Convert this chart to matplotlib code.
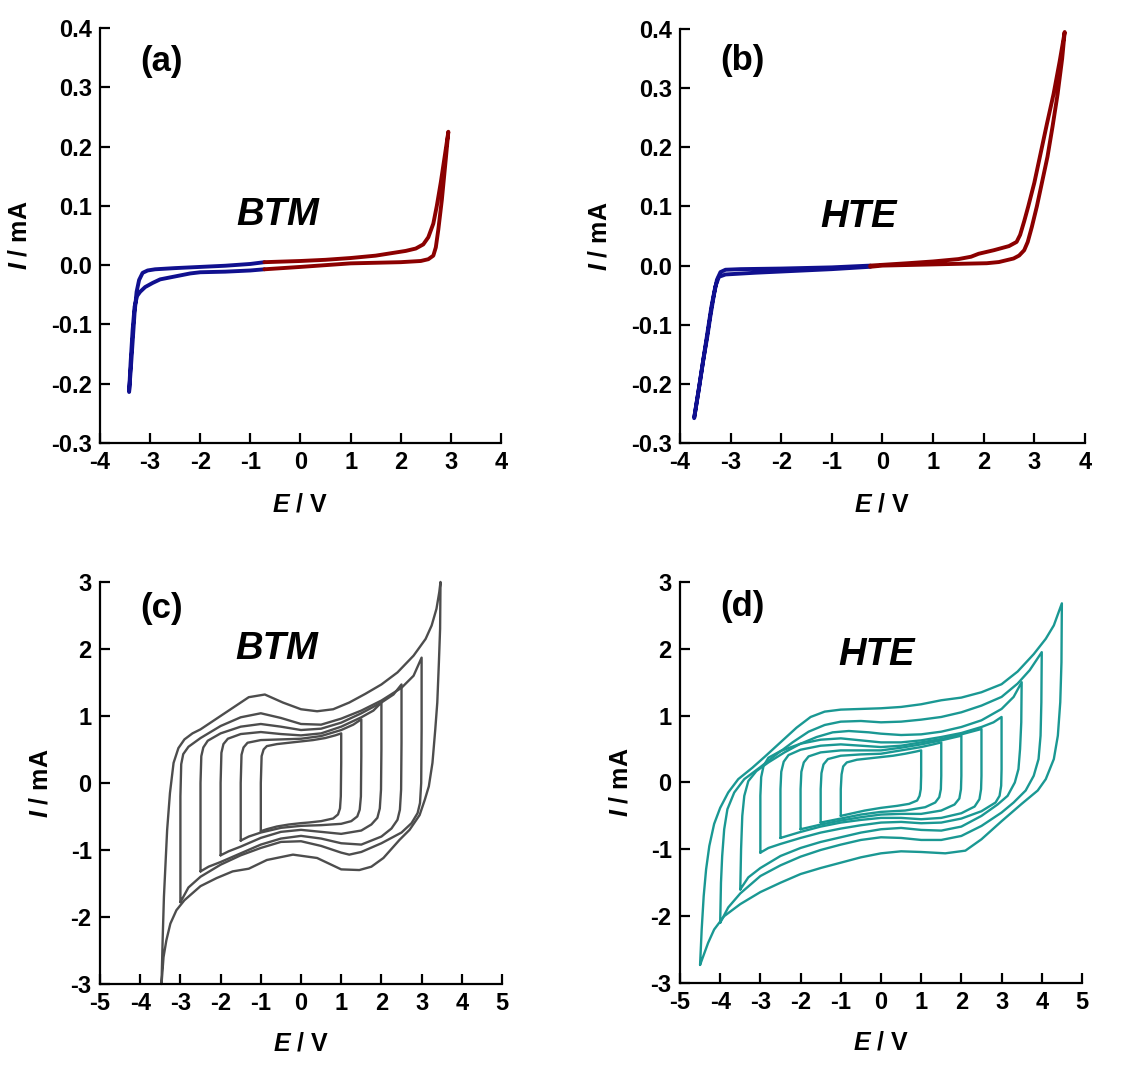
import numpy as np
import matplotlib
matplotlib.use("Agg")
import matplotlib.pyplot as plt
from matplotlib.ticker import FormatStrFormatter, MultipleLocator

plt.rcParams['font.family'] = ['Liberation Sans', 'DejaVu Sans']
plt.rcParams['font.weight'] = 'bold'
plt.rcParams['axes.unicode_minus'] = False
plt.rcParams['mathtext.fontset'] = 'custom'
plt.rcParams['mathtext.it'] = 'Liberation Sans:italic:bold'
plt.rcParams['mathtext.rm'] = 'Liberation Sans:bold'

BLUE = '#10108f'
RED = '#8b0000'
GRAY = '#4d4d4d'
TEAL = '#1a9893'

# (a) BTM, linear sweep, split at the colour change
a_blue = [(-0.72, 0.005), (-1.0, 0.002), (-1.5, -0.001), (-2.0, -0.003), (-2.5, -0.005),
          (-2.9, -0.007), (-3.05, -0.009), (-3.15, -0.013), (-3.22, -0.025), (-3.27, -0.045),
          (-3.31, -0.08), (-3.35, -0.13), (-3.39, -0.18), (-3.42, -0.214),
          (-3.39, -0.165), (-3.35, -0.11), (-3.31, -0.07), (-3.26, -0.052), (-3.2, -0.045),
          (-3.1, -0.037), (-2.95, -0.03), (-2.8, -0.024), (-2.5, -0.019), (-2.2, -0.014),
          (-2.0, -0.012), (-1.5, -0.011), (-1.0, -0.009), (-0.72, -0.007)]
a_red = [(-0.72, 0.005), (0.0, 0.007), (0.5, 0.009), (1.0, 0.012), (1.5, 0.016), (1.8, 0.02),
         (2.1, 0.024), (2.3, 0.028), (2.45, 0.035), (2.55, 0.047), (2.65, 0.07), (2.72, 0.1),
         (2.8, 0.14), (2.88, 0.185), (2.95, 0.225),
         (2.9, 0.18), (2.82, 0.11), (2.75, 0.06), (2.7, 0.03), (2.65, 0.016), (2.55, 0.01),
         (2.4, 0.007), (2.0, 0.005), (1.5, 0.004), (1.0, 0.003), (0.5, 0.0), (0.0, -0.003),
         (-0.72, -0.007)]

# (b) HTE, linear sweep
b_blue = [(-0.24, 0.0), (-1.0, -0.003), (-2.0, -0.005), (-2.8, -0.006), (-3.1, -0.007),
          (-3.2, -0.011), (-3.27, -0.024), (-3.33, -0.05), (-3.4, -0.086), (-3.46, -0.12),
          (-3.54, -0.16), (-3.62, -0.205), (-3.72, -0.258),
          (-3.64, -0.215), (-3.55, -0.165), (-3.46, -0.115), (-3.38, -0.07), (-3.3, -0.035),
          (-3.23, -0.019), (-3.1, -0.015), (-2.5, -0.012), (-2.0, -0.01), (-1.0, -0.006),
          (-0.24, -0.002)]
b_red = [(-0.24, 0.0), (0.5, 0.004), (1.0, 0.007), (1.5, 0.011), (1.75, 0.015), (1.9, 0.02),
         (2.2, 0.026), (2.5, 0.033), (2.65, 0.04), (2.72, 0.052), (2.8, 0.075), (2.88, 0.1),
         (3.0, 0.14), (3.11, 0.184), (3.25, 0.24), (3.38, 0.29), (3.5, 0.345), (3.6, 0.395),
         (3.55, 0.35), (3.46, 0.29), (3.36, 0.235), (3.26, 0.184), (3.15, 0.14), (3.05, 0.1),
         (2.95, 0.065), (2.87, 0.04), (2.8, 0.026), (2.7, 0.017), (2.59, 0.012), (2.3, 0.006),
         (2.06, 0.004), (1.5, 0.003), (1.0, 0.002), (0.0, 0.0), (-0.24, -0.002)]

# (c) BTM, cyclic voltammograms at increasing vertex potentials
c_loop_10 = [(-1.0, -0.72), (-1.0, 0.0), (-0.98, 0.4), (-0.93, 0.5), (-0.85, 0.55), (-0.6, 0.58),
             (-0.3, 0.6), (0.0, 0.62), (0.3, 0.64), (0.6, 0.67), (0.85, 0.71), (1.0, 0.74),
             (1.0, 0.3), (0.99, -0.2), (0.97, -0.38), (0.92, -0.47), (0.8, -0.53), (0.5, -0.57),
             (0.2, -0.59), (0.0, -0.6), (-0.3, -0.62), (-0.6, -0.65), (-0.85, -0.69), (-1.0, -0.72)]
c_loop_15 = [(-1.5, -0.86), (-1.5, 0.0), (-1.48, 0.42), (-1.43, 0.53), (-1.33, 0.6), (-1.0, 0.64),
             (-0.5, 0.65), (0.0, 0.66), (0.5, 0.7), (1.0, 0.79), (1.3, 0.87), (1.5, 0.95),
             (1.5, 0.4), (1.49, -0.2), (1.46, -0.4), (1.4, -0.5), (1.25, -0.57), (1.0, -0.61),
             (0.5, -0.63), (0.0, -0.64), (-0.5, -0.67), (-1.0, -0.74), (-1.3, -0.8), (-1.5, -0.86)]
c_loop_20 = [(-2.0, -1.08), (-2.0, 0.0), (-1.98, 0.45), (-1.93, 0.58), (-1.82, 0.66), (-1.5, 0.73),
             (-1.0, 0.76), (-0.5, 0.73), (0.0, 0.71), (0.5, 0.74), (1.0, 0.84), (1.5, 0.98),
             (1.8, 1.08), (2.0, 1.2), (2.0, 0.5), (1.99, -0.1), (1.96, -0.38), (1.9, -0.52),
             (1.75, -0.62), (1.5, -0.71), (1.0, -0.76), (0.5, -0.73), (0.0, -0.7), (-0.5, -0.73),
             (-1.0, -0.82), (-1.5, -0.95), (-1.8, -1.02), (-2.0, -1.08)]
c_loop_25 = [(-2.5, -1.32), (-2.5, 0.0), (-2.48, 0.4), (-2.43, 0.53), (-2.32, 0.63), (-2.0, 0.74),
             (-1.5, 0.84), (-1.0, 0.88), (-0.5, 0.84), (0.0, 0.79), (0.5, 0.81), (1.0, 0.9),
             (1.5, 1.04), (2.0, 1.2), (2.3, 1.32), (2.5, 1.47), (2.5, 0.6), (2.49, -0.1),
             (2.46, -0.4), (2.4, -0.55), (2.25, -0.68), (2.0, -0.8), (1.5, -0.92), (1.0, -0.9),
             (0.5, -0.83), (0.0, -0.79), (-0.5, -0.83), (-1.0, -0.92), (-1.5, -1.05), (-2.0, -1.18),
             (-2.3, -1.25), (-2.5, -1.32)]
c_loop_30 = [(-3.0, -1.78), (-3.0, -0.2), (-2.98, 0.28), (-2.93, 0.43), (-2.8, 0.54), (-2.5, 0.67),
             (-2.0, 0.85), (-1.5, 0.98), (-1.0, 1.04), (-0.5, 0.97), (0.0, 0.88), (0.5, 0.87),
             (1.0, 0.96), (1.5, 1.08), (2.0, 1.23), (2.5, 1.42), (2.8, 1.6), (3.0, 1.87),
             (3.0, 0.8), (2.99, 0.0), (2.96, -0.3), (2.9, -0.45), (2.75, -0.6), (2.5, -0.74),
             (2.0, -0.9), (1.5, -1.03), (1.2, -1.07), (1.0, -1.04), (0.5, -0.94), (0.0, -0.87),
             (-0.5, -0.88), (-1.0, -0.97), (-1.5, -1.08), (-2.0, -1.22), (-2.5, -1.4), (-2.8, -1.56),
             (-3.0, -1.78)]
c_loop_35 = [(-3.47, -3.0), (-3.44, -2.3), (-3.41, -1.7), (-3.37, -1.2), (-3.33, -0.7), (-3.26, -0.15),
             (-3.17, 0.3), (-3.05, 0.52), (-2.9, 0.65), (-2.7, 0.74), (-2.5, 0.8), (-2.1, 0.96),
             (-1.7, 1.12), (-1.3, 1.28), (-0.9, 1.32), (-0.45, 1.2), (0.0, 1.1), (0.4, 1.07),
             (0.8, 1.1), (1.2, 1.2), (1.6, 1.33), (2.0, 1.47), (2.4, 1.65), (2.8, 1.9), (3.1, 2.15),
             (3.25, 2.35), (3.37, 2.6), (3.44, 2.85), (3.47, 3.0), (3.46, 2.3), (3.43, 1.8),
             (3.39, 1.2), (3.34, 0.8), (3.27, 0.3), (3.18, -0.05), (3.08, -0.25), (2.95, -0.48),
             (2.7, -0.7), (2.45, -0.85), (2.05, -1.12), (1.75, -1.25), (1.45, -1.3), (1.0, -1.29),
             (0.4, -1.12), (-0.2, -1.07), (-0.85, -1.15), (-1.3, -1.28), (-1.7, -1.32), (-2.1, -1.42),
             (-2.5, -1.54), (-2.9, -1.75), (-3.1, -1.9), (-3.25, -2.1), (-3.35, -2.35), (-3.42, -2.6),
             (-3.47, -3.0)]
c_loops = [c_loop_10, c_loop_15, c_loop_20, c_loop_25, c_loop_30, c_loop_35]

# (d) HTE, cyclic voltammograms at increasing vertex potentials
d_loop_10 = [(-1.0, -0.5), (-1.0, -0.1), (-0.98, 0.12), (-0.94, 0.24), (-0.85, 0.3), (-0.6, 0.34),
             (-0.3, 0.36), (0.0, 0.38), (0.3, 0.4), (0.6, 0.43), (0.85, 0.46), (1.0, 0.48),
             (1.0, 0.1), (0.99, -0.1), (0.96, -0.2), (0.9, -0.27), (0.7, -0.32), (0.4, -0.35),
             (0.0, -0.38), (-0.4, -0.42), (-0.7, -0.46), (-1.0, -0.5)]
d_loop_15 = [(-1.5, -0.6), (-1.5, -0.1), (-1.48, 0.14), (-1.43, 0.27), (-1.32, 0.35), (-1.0, 0.4),
             (-0.5, 0.42), (0.0, 0.43), (0.5, 0.48), (1.0, 0.53), (1.3, 0.57), (1.5, 0.6),
             (1.5, 0.1), (1.49, -0.1), (1.45, -0.22), (1.35, -0.3), (1.1, -0.37), (0.6, -0.42),
             (0.0, -0.44), (-0.5, -0.48), (-1.0, -0.54), (-1.5, -0.6)]
d_loop_20 = [(-2.0, -0.7), (-2.0, -0.1), (-1.98, 0.16), (-1.92, 0.3), (-1.8, 0.39), (-1.5, 0.45),
             (-1.0, 0.48), (-0.5, 0.48), (0.0, 0.48), (0.5, 0.52), (1.0, 0.57), (1.5, 0.63),
             (2.0, 0.7), (2.0, 0.1), (1.99, -0.1), (1.95, -0.24), (1.83, -0.33), (1.5, -0.42),
             (1.0, -0.47), (0.5, -0.47), (0.0, -0.48), (-0.5, -0.52), (-1.0, -0.57), (-1.5, -0.63),
             (-2.0, -0.7)]
d_loop_25 = [(-2.5, -0.83), (-2.5, -0.1), (-2.48, 0.16), (-2.42, 0.31), (-2.3, 0.41), (-2.0, 0.49),
             (-1.5, 0.55), (-1.0, 0.57), (-0.5, 0.55), (0.0, 0.53), (0.5, 0.55), (1.0, 0.6),
             (1.5, 0.65), (2.0, 0.72), (2.5, 0.8), (2.5, 0.1), (2.49, -0.1), (2.45, -0.25),
             (2.33, -0.36), (2.0, -0.46), (1.5, -0.53), (1.0, -0.55), (0.5, -0.53), (0.0, -0.53),
             (-0.5, -0.56), (-1.0, -0.6), (-1.5, -0.66), (-2.0, -0.74), (-2.5, -0.83)]
d_loop_30 = [(-3.0, -1.05), (-3.0, -0.2), (-2.98, 0.08), (-2.92, 0.25), (-2.8, 0.37), (-2.5, 0.47),
             (-2.0, 0.58), (-1.5, 0.64), (-1.0, 0.66), (-0.5, 0.63), (0.0, 0.6), (0.5, 0.6),
             (1.0, 0.63), (1.5, 0.68), (2.0, 0.74), (2.5, 0.83), (2.8, 0.9), (3.0, 0.98),
             (3.0, 0.2), (2.99, -0.05), (2.95, -0.2), (2.85, -0.3), (2.5, -0.43), (2.0, -0.54),
             (1.5, -0.6), (1.0, -0.61), (0.5, -0.59), (0.0, -0.6), (-0.5, -0.64), (-1.0, -0.69),
             (-1.5, -0.75), (-2.0, -0.83), (-2.5, -0.92), (-2.8, -0.98), (-3.0, -1.05)]
d_loop_35 = [(-3.5, -1.6), (-3.48, -1.0), (-3.45, -0.5), (-3.4, -0.2), (-3.3, 0.02), (-3.1, 0.17),
             (-2.8, 0.3), (-2.4, 0.45), (-2.0, 0.58), (-1.6, 0.68), (-1.2, 0.75), (-0.8, 0.77),
             (-0.3, 0.75), (0.0, 0.73), (0.5, 0.71), (1.0, 0.72), (1.5, 0.76), (2.0, 0.83),
             (2.5, 0.93), (3.0, 1.1), (3.3, 1.28), (3.5, 1.5), (3.49, 0.9), (3.46, 0.5),
             (3.42, 0.2), (3.33, 0.0), (3.15, -0.2), (2.9, -0.33), (2.5, -0.5), (2.0, -0.66),
             (1.5, -0.72), (1.0, -0.71), (0.5, -0.68), (0.0, -0.7), (-0.5, -0.75), (-1.0, -0.82),
             (-1.5, -0.89), (-2.0, -0.98), (-2.5, -1.1), (-3.0, -1.28), (-3.3, -1.42), (-3.5, -1.6)]
d_loop_40 = [(-4.0, -2.1), (-3.98, -1.5), (-3.95, -1.1), (-3.9, -0.7), (-3.82, -0.4), (-3.65, -0.15),
             (-3.4, 0.05), (-3.0, 0.23), (-2.6, 0.42), (-2.2, 0.6), (-1.8, 0.76), (-1.4, 0.86),
             (-1.0, 0.91), (-0.5, 0.92), (0.0, 0.9), (0.5, 0.91), (1.0, 0.94), (1.5, 0.98),
             (2.0, 1.05), (2.5, 1.15), (3.0, 1.28), (3.4, 1.48), (3.7, 1.68), (4.0, 1.95),
             (3.99, 1.2), (3.97, 0.7), (3.92, 0.35), (3.8, 0.1), (3.6, -0.12), (3.3, -0.3),
             (3.0, -0.45), (2.5, -0.65), (2.0, -0.8), (1.5, -0.86), (1.0, -0.86), (0.5, -0.83),
             (0.0, -0.82), (-0.5, -0.86), (-1.0, -0.93), (-1.5, -1.01), (-2.0, -1.11), (-2.5, -1.24),
             (-3.0, -1.4), (-3.5, -1.66), (-3.8, -1.87), (-4.0, -2.1)]
d_loop_45 = [(-4.5, -2.73), (-4.46, -2.2), (-4.41, -1.7), (-4.35, -1.3), (-4.27, -0.95), (-4.15, -0.62),
             (-4.0, -0.38), (-3.8, -0.15), (-3.55, 0.05), (-3.2, 0.22), (-2.9, 0.38), (-2.5, 0.6),
             (-2.1, 0.82), (-1.75, 0.98), (-1.4, 1.06), (-1.0, 1.09), (-0.5, 1.1), (0.0, 1.11),
             (0.5, 1.13), (1.0, 1.17), (1.5, 1.23), (2.0, 1.27), (2.5, 1.35), (3.0, 1.47),
             (3.4, 1.66), (3.8, 1.92), (4.1, 2.15), (4.3, 2.35), (4.5, 2.68), (4.49, 1.8),
             (4.46, 1.2), (4.4, 0.7), (4.3, 0.35), (4.1, 0.05), (3.9, -0.12), (3.5, -0.32),
             (3.0, -0.58), (2.5, -0.85), (2.1, -1.02), (1.6, -1.06), (1.0, -1.04), (0.5, -1.03),
             (0.0, -1.06), (-0.5, -1.12), (-1.0, -1.2), (-1.5, -1.28), (-2.0, -1.37), (-2.5, -1.5),
             (-3.0, -1.64), (-3.5, -1.82), (-3.9, -2.0), (-4.15, -2.2), (-4.3, -2.4), (-4.5, -2.73)]
d_loops = [d_loop_10, d_loop_15, d_loop_20, d_loop_25, d_loop_30, d_loop_35, d_loop_40, d_loop_45]


def style_axes(ax, xlim, ylim, ystep, yfmt, xlabel_y, ylabel_x):
    ax.set_xlim(*xlim)
    ax.set_ylim(*ylim)
    ax.xaxis.set_major_locator(MultipleLocator(1))
    ax.yaxis.set_major_locator(MultipleLocator(ystep))
    ax.yaxis.set_major_formatter(FormatStrFormatter(yfmt))
    ax.xaxis.set_major_formatter(FormatStrFormatter('%d'))
    for side in ['top', 'right']:
        ax.spines[side].set_visible(False)
    for side in ['left', 'bottom']:
        ax.spines[side].set_linewidth(1.6)
    ax.tick_params(direction='in', length=7, width=1.6, labelsize=17, pad=6)
    ax.set_xlabel(r'$E$ / V', fontsize=18, fontweight='bold')
    ax.set_ylabel(r'$I$ / mA', fontsize=18, fontweight='bold')
    ax.xaxis.set_label_coords(0.5, xlabel_y)
    ax.yaxis.set_label_coords(ylabel_x, 0.5)


def draw(ax, pts, color, lw):
    arr = np.array(pts)
    ax.plot(arr[:, 0], arr[:, 1], color=color, lw=lw, solid_joinstyle='round',
            solid_capstyle='round', clip_on=False)


fig = plt.figure(figsize=(11.43, 10.68), dpi=100)
ax_a = fig.add_axes([0.0875, 0.5852, 0.3508, 0.3886])
ax_b = fig.add_axes([0.5949, 0.5852, 0.3543, 0.3876])
ax_c = fig.add_axes([0.0875, 0.0787, 0.3517, 0.3764])
ax_d = fig.add_axes([0.5949, 0.0796, 0.3517, 0.3755])

draw(ax_a, a_blue, BLUE, 2.8)
draw(ax_a, a_red, RED, 2.8)
style_axes(ax_a, (-4, 4), (-0.3, 0.4), 0.1, '%.1f', -0.12, -0.17)

draw(ax_b, b_blue, BLUE, 2.8)
draw(ax_b, b_red, RED, 2.8)
style_axes(ax_b, (-4, 4), (-0.3, 0.4), 0.1, '%.1f', -0.12, -0.17)

for loop in c_loops:
    draw(ax_c, loop, GRAY, 1.7)
style_axes(ax_c, (-5, 5), (-3, 3), 1, '%d', -0.118, -0.117)

for loop in d_loops:
    draw(ax_d, loop, TEAL, 1.7)
style_axes(ax_d, (-5, 5), (-3, 3), 1, '%d', -0.118, -0.117)

panel_text = [(ax_a, '(a)', 0.92, 'BTM', 0.443, 0.549),
              (ax_b, '(b)', 0.925, 'HTE', 0.442, 0.546),
              (ax_c, '(c)', 0.935, 'BTM', 0.44, 0.833),
              (ax_d, '(d)', 0.94, 'HTE', 0.49, 0.818)]
for ax, tag, tag_y, name, nx, ny in panel_text:
    ax.text(0.10, tag_y, tag, transform=ax.transAxes, fontsize=25, fontweight='bold',
            ha='left', va='center')
    ax.text(nx, ny, name, transform=ax.transAxes, fontsize=27.5, fontweight='bold',
            fontstyle='italic', ha='center', va='center')

fig.savefig('out.png', dpi=100)
